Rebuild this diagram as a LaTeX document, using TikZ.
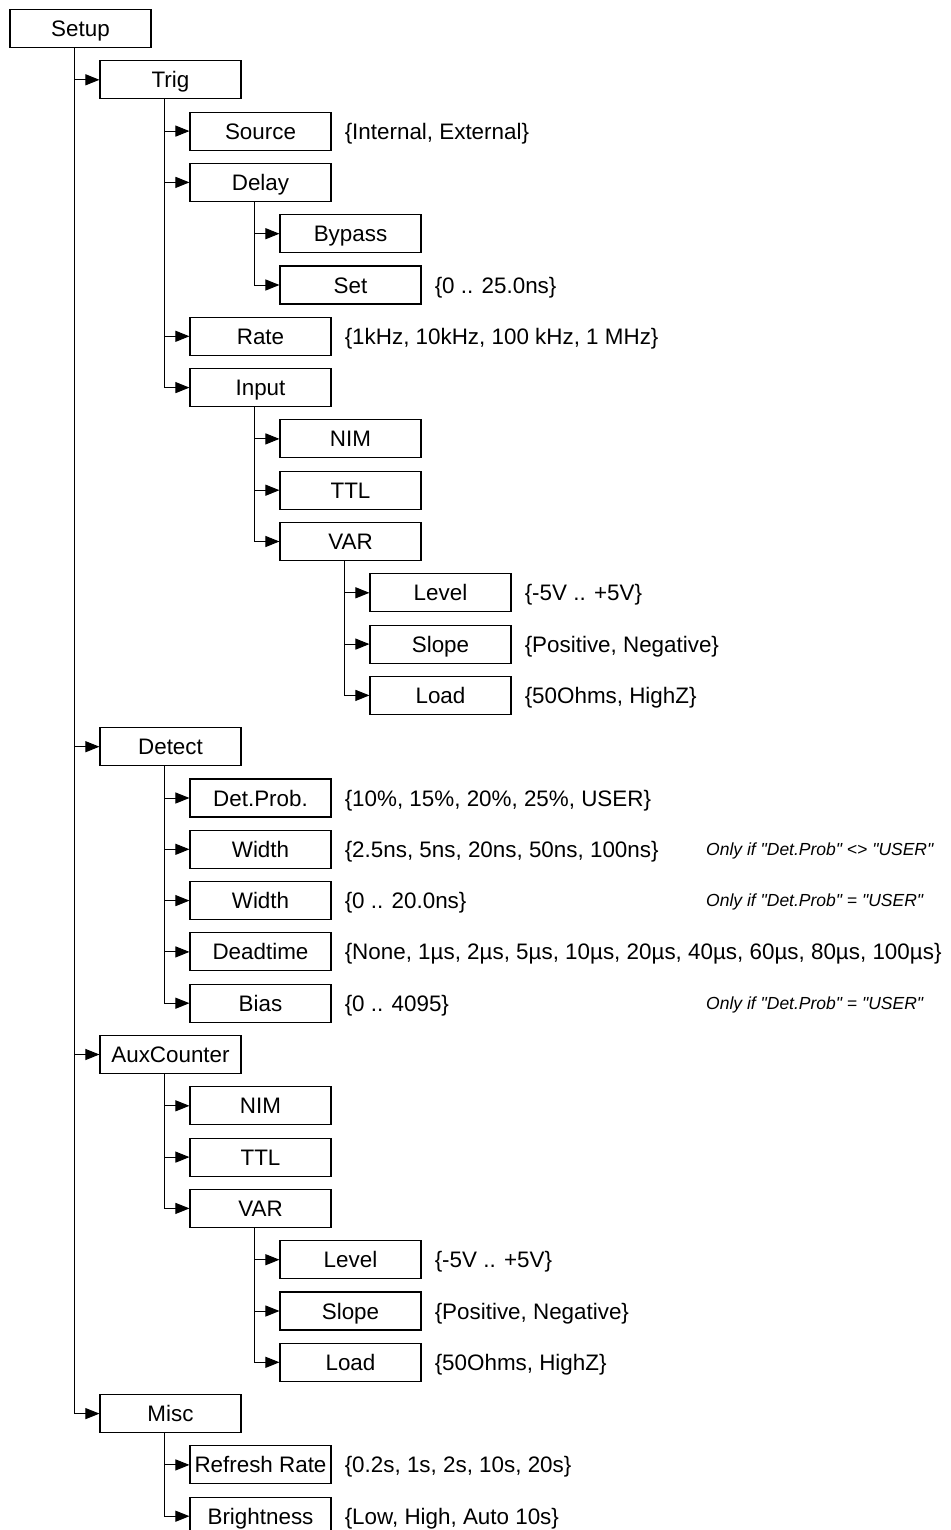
\documentclass[tikz,border=0pt]{standalone}
\usepackage{fontspec}
\setmainfont{Liberation Sans}
\newfontfamily\notefont{Liberation Sans}
\usetikzlibrary{arrows.meta}
\newcommand\bx[4]{\node[box] (#1) at ({80.5+90*#2}, {-28.5-51.3*#3}) {#4};}
\newcommand\vl[2]{\node[val] (v#1) at ([xshift=13pt]#1.east) {#2};}
\begin{document}
\begin{tikzpicture}[x=1pt,y=1pt,
  box/.style={draw, line width=1.1pt, minimum width=141pt, minimum height=38pt, inner sep=0pt,
    text height=16pt, text depth=0pt, font=\fontsize{22.4}{26}\selectfont},
  val/.style={anchor=west, inner sep=0pt, text height=16pt, text depth=0pt, font=\fontsize{22.4}{26}\selectfont},
  note/.style={anchor=west, inner sep=0pt, text height=12.5pt, text depth=0pt, font=\notefont\fontsize{17.5}{20}\selectfont\itshape},
  link/.style={line width=1pt, -{Triangle[length=14pt,width=11pt]}}]
\useasboundingbox (0,0) rectangle (950,-1530);
\bx{setup}{0}{0}{Setup}
\bx{trig}{1}{1}{Trig}
\bx{source}{2}{2}{Source}
\bx{delay}{2}{3}{Delay}
\bx{bypass}{3}{4}{Bypass}
\bx{set}{3}{5}{Set}
\bx{rate}{2}{6}{Rate}
\bx{input}{2}{7}{Input}
\bx{nim}{3}{8}{NIM}
\bx{ttl}{3}{9}{TTL}
\bx{var}{3}{10}{VAR}
\bx{level}{4}{11}{Level}
\bx{slope}{4}{12}{Slope}
\bx{load}{4}{13}{Load}
\bx{detect}{1}{14}{Detect}
\bx{detprob}{2}{15}{Det.Prob.}
\bx{widtha}{2}{16}{Width}
\bx{widthb}{2}{17}{Width}
\bx{deadtime}{2}{18}{Deadtime}
\bx{bias}{2}{19}{Bias}
\bx{aux}{1}{20}{AuxCounter}
\bx{anim}{2}{21}{NIM}
\bx{attl}{2}{22}{TTL}
\bx{avar}{2}{23}{VAR}
\bx{alevel}{3}{24}{Level}
\bx{aslope}{3}{25}{Slope}
\bx{aload}{3}{26}{Load}
\bx{misc}{1}{27}{Misc}
\bx{refresh}{2}{28}{Refresh Rate}
\bx{bright}{2}{29}{Brightness}
% values
\vl{source}{\{Internal, External\}}
\vl{set}{\{0 .. 25.0ns\}}
\vl{rate}{\{1kHz, 10kHz, 100 kHz, 1 MHz\}}
\vl{level}{\{-5V .. +5V\}}
\vl{slope}{\{Positive, Negative\}}
\vl{load}{\{50Ohms, HighZ\}}
\vl{detprob}{\{10\%, 15\%, 20\%, 25\%, USER\}}
\vl{widtha}{\{2.5ns, 5ns, 20ns, 50ns, 100ns\}}
\vl{widthb}{\{0 .. 20.0ns\}}
\vl{deadtime}{\{None, 1µs, 2µs, 5µs, 10µs, 20µs, 40µs, 60µs, 80µs, 100µs\}}
\vl{bias}{\{0 .. 4095\}}
\vl{alevel}{\{-5V .. +5V\}}
\vl{aslope}{\{Positive, Negative\}}
\vl{aload}{\{50Ohms, HighZ\}}
\vl{refresh}{\{0.2s, 1s, 2s, 10s, 20s\}}
\vl{bright}{\{Low, High, Auto 10s\}}
% notes
\node[note] (nwa) at (706, 0 |- widtha.center) {Only if "Det.Prob" <> "USER"};
\node[note] (nwb) at (706, 0 |- widthb.center) {Only if "Det.Prob" = "USER"};
\node[note] (nbi) at (706, 0 |- bias.center) {Only if "Det.Prob" = "USER"};
% connectors
\foreach \p/\c in {setup/trig, setup/detect, setup/aux, setup/misc,
  trig/source, trig/delay, trig/rate, trig/input,
  delay/bypass, delay/set,
  input/nim, input/ttl, input/var,
  var/level, var/slope, var/load,
  detect/detprob, detect/widtha, detect/widthb, detect/deadtime, detect/bias,
  aux/anim, aux/attl, aux/avar,
  avar/alevel, avar/aslope, avar/aload,
  misc/refresh, misc/bright}
  \draw[link] ([xshift=-6.5pt]\p.south) |- (\c.west);
\end{tikzpicture}
\end{document}
